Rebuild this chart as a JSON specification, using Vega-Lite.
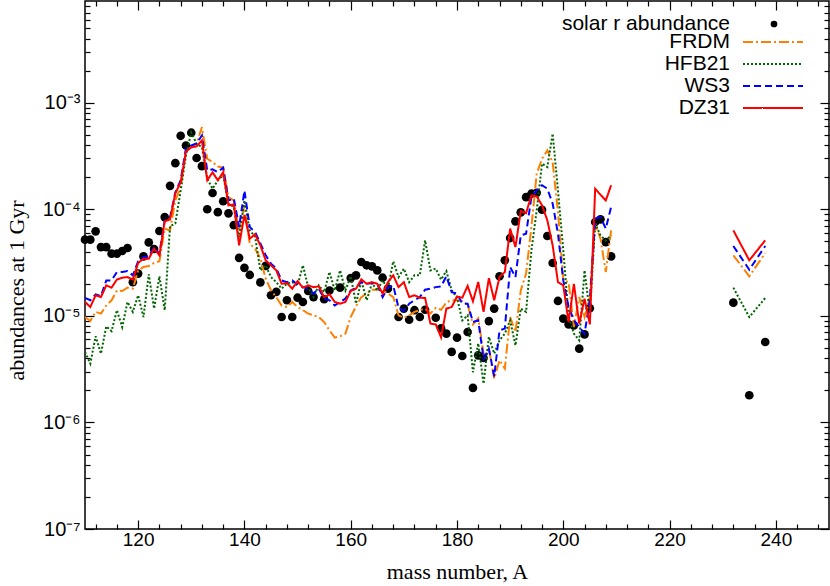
{
"$schema":"https://vega.github.io/schema/vega-lite/v6.json",
"width":744,"height":528,
"autosize":{"type":"none"},
"padding":{"left":85,"top":1,"right":1,"bottom":57},
"background":"white",
"config":{"view":{"stroke":"black","strokeWidth":1.5},"axis":{"domain":false,"grid":false,"tickColor":"black","tickWidth":1.2,"labelColor":"black","labelFont":"Liberation Sans","labelFontSize":19,"titleColor":"black","titleFont":"Liberation Serif","titleFontSize":22,"titleFontWeight":"normal","labelOverlap":false,"labelFlush":false},"legend":{"labelFont":"Liberation Sans","labelFontSize":21,"labelColor":"black","labelLimit":400,"labelAlign":"right","labelBaseline":"middle","padding":0,"rowPadding":0,"title":null}},
"data":{"values":[
{"A":110,"solar":5.19e-5,"FRDM":9.75e-6,"HFB21":4.58e-6,"WS3":1.47e-5,"DZ31":1.35e-5},
{"A":111,"solar":5.19e-5,"FRDM":8.95e-6,"HFB21":3.56e-6,"WS3":1.40e-5,"DZ31":1.21e-5},
{"A":112,"solar":6.21e-5,"FRDM":1.09e-5,"HFB21":6.43e-6,"WS3":1.59e-5,"DZ31":1.56e-5},
{"A":113,"solar":4.42e-5,"FRDM":1.05e-5,"HFB21":4.42e-6,"WS3":1.53e-5,"DZ31":1.50e-5},
{"A":114,"solar":4.42e-5,"FRDM":1.25e-5,"HFB21":7.96e-6,"WS3":2.15e-5,"DZ31":1.93e-5},
{"A":115,"solar":3.83e-5,"FRDM":1.40e-5,"HFB21":7.19e-6,"WS3":2.15e-5,"DZ31":1.84e-5},
{"A":116,"solar":3.83e-5,"FRDM":1.73e-5,"HFB21":1.13e-5,"WS3":2.58e-5,"DZ31":2.19e-5},
{"A":117,"solar":4.06e-5,"FRDM":1.71e-5,"HFB21":7.85e-6,"WS3":2.58e-5,"DZ31":2.28e-5},
{"A":118,"solar":4.33e-5,"FRDM":1.84e-5,"HFB21":1.35e-5,"WS3":2.63e-5,"DZ31":2.31e-5},
{"A":119,"solar":2.07e-5,"FRDM":1.80e-5,"HFB21":1.09e-5,"WS3":2.40e-5,"DZ31":2.19e-5},
{"A":120,"solar":2.49e-5,"FRDM":2.67e-5,"HFB21":1.56e-5,"WS3":3.25e-5,"DZ31":3.13e-5},
{"A":121,"solar":3.61e-5,"FRDM":2.87e-5,"HFB21":9.75e-6,"WS3":3.56e-5,"DZ31":3.44e-5},
{"A":122,"solar":4.89e-5,"FRDM":2.93e-5,"HFB21":2.45e-5,"WS3":3.61e-5,"DZ31":3.44e-5},
{"A":123,"solar":4.24e-5,"FRDM":3.13e-5,"HFB21":1.17e-5,"WS3":4.42e-5,"DZ31":4.27e-5},
{"A":124,"solar":6.25e-5,"FRDM":3.25e-5,"HFB21":2.35e-5,"WS3":3.83e-5,"DZ31":3.70e-5},
{"A":125,"solar":8.45e-5,"FRDM":6.58e-5,"HFB21":1.13e-5,"WS3":7.87e-5,"DZ31":7.70e-5},
{"A":126,"solar":1.66e-4,"FRDM":6.34e-5,"HFB21":6.92e-5,"WS3":8.39e-5,"DZ31":8.04e-5},
{"A":127,"solar":2.71e-4,"FRDM":1.21e-4,"HFB21":7.38e-5,"WS3":1.44e-4,"DZ31":1.41e-4},
{"A":128,"solar":4.89e-4,"FRDM":1.61e-4,"HFB21":1.50e-4,"WS3":1.87e-4,"DZ31":1.79e-4},
{"A":129,"solar":3.97e-4,"FRDM":3.57e-4,"HFB21":3.20e-4,"WS3":3.73e-4,"DZ31":3.49e-4},
{"A":130,"solar":5.23e-4,"FRDM":3.83e-4,"HFB21":5.26e-4,"WS3":3.97e-4,"DZ31":3.81e-4},
{"A":131,"solar":3.03e-4,"FRDM":4.12e-4,"HFB21":4.12e-4,"WS3":4.15e-4,"DZ31":3.89e-4},
{"A":132,"solar":2.54e-4,"FRDM":5.90e-4,"HFB21":3.83e-4,"WS3":4.93e-4,"DZ31":4.43e-4},
{"A":133,"solar":1.00e-4,"FRDM":2.98e-4,"HFB21":1.94e-4,"WS3":2.32e-4,"DZ31":1.87e-4},
{"A":134,"solar":1.42e-4,"FRDM":2.77e-4,"HFB21":1.56e-4,"WS3":2.37e-4,"DZ31":2.22e-4},
{"A":135,"solar":9.40e-5,"FRDM":2.52e-4,"HFB21":1.87e-4,"WS3":2.23e-4,"DZ31":1.87e-4},
{"A":136,"solar":1.19e-4,"FRDM":2.46e-4,"HFB21":2.08e-4,"WS3":2.46e-4,"DZ31":2.23e-4},
{"A":137,"solar":9.16e-5,"FRDM":1.30e-4,"HFB21":1.13e-4,"WS3":1.21e-4,"DZ31":1.09e-4},
{"A":138,"solar":7.10e-5,"FRDM":1.21e-4,"HFB21":1.05e-4,"WS3":1.26e-4,"DZ31":1.11e-4},
{"A":139,"solar":3.50e-5,"FRDM":6.34e-5,"HFB21":5.48e-5,"WS3":6.81e-5,"DZ31":4.58e-5},
{"A":140,"solar":2.82e-5,"FRDM":1.09e-4,"HFB21":1.21e-4,"WS3":1.50e-4,"DZ31":8.85e-5},
{"A":141,"solar":2.42e-5,"FRDM":4.75e-5,"HFB21":6.34e-5,"WS3":6.81e-5,"DZ31":5.30e-5},
{"A":142,"FRDM":4.27e-5,"HFB21":5.57e-5,"WS3":6.11e-5,"DZ31":5.82e-5},
{"A":143,"solar":2.06e-5,"FRDM":3.47e-5,"HFB21":2.67e-5,"WS3":4.79e-5,"DZ31":4.58e-5},
{"A":144,"solar":2.94e-5,"FRDM":2.24e-5,"HFB21":2.98e-5,"WS3":3.70e-5,"DZ31":3.32e-5},
{"A":145,"solar":1.56e-5,"FRDM":1.73e-5,"HFB21":2.31e-5,"WS3":3.09e-5,"DZ31":2.98e-5},
{"A":146,"solar":1.68e-5,"FRDM":1.50e-5,"HFB21":2.07e-5,"WS3":2.77e-5,"DZ31":2.67e-5},
{"A":147,"solar":9.75e-6,"FRDM":1.25e-5,"HFB21":1.80e-5,"WS3":2.15e-5,"DZ31":2.00e-5},
{"A":148,"solar":1.40e-5,"FRDM":1.21e-5,"HFB21":2.00e-5,"WS3":2.07e-5,"DZ31":2.03e-5},
{"A":149,"solar":9.75e-6,"FRDM":1.35e-5,"HFB21":2.07e-5,"WS3":2.15e-5,"DZ31":1.80e-5},
{"A":150,"solar":1.48e-5,"FRDM":1.21e-5,"HFB21":1.93e-5,"WS3":1.97e-5,"DZ31":2.12e-5},
{"A":151,"solar":1.35e-5,"FRDM":1.13e-5,"HFB21":2.98e-5,"WS3":1.86e-5,"DZ31":1.84e-5},
{"A":152,"solar":1.71e-5,"FRDM":1.05e-5,"HFB21":1.86e-5,"WS3":1.80e-5,"DZ31":1.93e-5},
{"A":153,"solar":1.50e-5,"FRDM":1.01e-5,"HFB21":1.50e-5,"WS3":1.62e-5,"DZ31":1.86e-5},
{"A":154,"FRDM":9.75e-6,"HFB21":1.93e-5,"WS3":1.80e-5,"DZ31":1.89e-5},
{"A":155,"solar":1.43e-5,"FRDM":8.75e-6,"HFB21":1.67e-5,"WS3":1.45e-5,"DZ31":1.50e-5},
{"A":156,"solar":1.73e-5,"FRDM":7.31e-6,"HFB21":2.58e-5,"WS3":1.40e-5,"DZ31":1.59e-5},
{"A":157,"FRDM":6.24e-6,"HFB21":1.73e-5,"WS3":1.25e-5,"DZ31":1.35e-5},
{"A":158,"solar":1.84e-5,"FRDM":6.43e-6,"HFB21":2.67e-5,"WS3":1.35e-5,"DZ31":1.30e-5},
{"A":159,"FRDM":6.81e-6,"HFB21":1.73e-5,"WS3":1.45e-5,"DZ31":1.35e-5},
{"A":160,"solar":2.26e-5,"FRDM":9.75e-6,"HFB21":2.35e-5,"WS3":1.73e-5,"DZ31":1.71e-5},
{"A":161,"solar":2.40e-5,"FRDM":1.23e-5,"HFB21":1.30e-5,"WS3":1.84e-5,"DZ31":1.80e-5},
{"A":162,"solar":3.20e-5,"FRDM":1.50e-5,"HFB21":2.15e-5,"WS3":2.07e-5,"DZ31":2.20e-5},
{"A":163,"solar":2.98e-5,"FRDM":1.62e-5,"HFB21":1.40e-5,"WS3":2.00e-5,"DZ31":2.00e-5},
{"A":164,"solar":2.91e-5,"FRDM":1.76e-5,"HFB21":2.03e-5,"WS3":2.03e-5,"DZ31":2.07e-5},
{"A":165,"solar":2.67e-5,"FRDM":1.76e-5,"HFB21":1.73e-5,"WS3":2.00e-5,"DZ31":2.00e-5},
{"A":166,"solar":2.28e-5,"FRDM":1.73e-5,"HFB21":2.15e-5,"WS3":1.50e-5,"DZ31":1.62e-5},
{"A":167,"solar":1.80e-5,"FRDM":1.62e-5,"HFB21":1.80e-5,"WS3":1.84e-5,"DZ31":2.07e-5},
{"A":168,"FRDM":1.50e-5,"HFB21":3.25e-5,"WS3":1.93e-5,"DZ31":2.40e-5},
{"A":169,"solar":9.75e-6,"FRDM":1.01e-5,"HFB21":2.31e-5,"WS3":1.19e-5,"DZ31":1.86e-5},
{"A":170,"solar":1.17e-5,"FRDM":9.6e-6,"HFB21":2.77e-5,"WS3":1.11e-5,"DZ31":2.07e-5},
{"A":171,"solar":9.2e-6,"FRDM":1.01e-5,"HFB21":2.07e-5,"WS3":1.30e-5,"DZ31":1.50e-5},
{"A":172,"solar":1.13e-5,"FRDM":1.09e-5,"HFB21":2.40e-5,"WS3":1.40e-5,"DZ31":1.56e-5},
{"A":173,"solar":9.75e-6,"FRDM":1.13e-5,"HFB21":2.40e-5,"WS3":1.50e-5,"DZ31":1.48e-5},
{"A":174,"solar":1.14e-5,"FRDM":1.17e-5,"HFB21":5.11e-5,"WS3":1.76e-5,"DZ31":1.47e-5},
{"A":175,"FRDM":1.05e-5,"HFB21":2.67e-5,"WS3":1.80e-5,"DZ31":8.45e-6},
{"A":176,"solar":9.6e-6,"FRDM":1.19e-5,"HFB21":2.77e-5,"WS3":1.86e-5,"DZ31":8.32e-6},
{"A":177,"solar":7.64e-6,"FRDM":1.14e-5,"HFB21":2.19e-5,"WS3":1.89e-5,"DZ31":6.28e-6},
{"A":178,"solar":6.81e-6,"FRDM":1.34e-5,"HFB21":2.63e-5,"WS3":2.35e-5,"DZ31":1.17e-5},
{"A":179,"solar":4.59e-6,"FRDM":1.40e-5,"HFB21":1.73e-5,"WS3":1.67e-5,"DZ31":1.21e-5},
{"A":180,"solar":6.24e-6,"FRDM":1.40e-5,"HFB21":1.49e-5,"WS3":1.62e-5,"DZ31":1.52e-5},
{"A":181,"solar":4.20e-6,"FRDM":1.37e-5,"HFB21":9.06e-6,"WS3":1.30e-5,"DZ31":1.48e-5},
{"A":182,"solar":7.05e-6,"FRDM":1.28e-5,"HFB21":1.01e-5,"WS3":1.30e-5,"DZ31":1.91e-5},
{"A":183,"solar":2.11e-6,"FRDM":8.32e-6,"HFB21":2.96e-6,"WS3":8.75e-6,"DZ31":1.37e-5},
{"A":184,"solar":4.26e-6,"FRDM":9.48e-6,"HFB21":5.52e-6,"WS3":9.06e-6,"DZ31":2.08e-5},
{"A":185,"solar":4.02e-6,"FRDM":4.42e-6,"HFB21":2.31e-6,"WS3":3.96e-6,"DZ31":1.09e-5},
{"A":186,"solar":8.93e-6,"FRDM":4.92e-6,"HFB21":6.34e-6,"WS3":4.92e-6,"DZ31":2.26e-5},
{"A":187,"solar":1.17e-5,"FRDM":2.58e-6,"HFB21":4.42e-6,"WS3":2.70e-6,"DZ31":1.40e-5},
{"A":188,"solar":2.35e-5,"FRDM":3.83e-6,"HFB21":5.89e-6,"WS3":7.31e-6,"DZ31":2.31e-5},
{"A":189,"solar":3.32e-5,"FRDM":3.20e-6,"HFB21":6.81e-6,"WS3":7.59e-6,"DZ31":2.58e-5},
{"A":190,"solar":5.37e-5,"FRDM":9.75e-6,"HFB21":9.06e-6,"WS3":2.87e-5,"DZ31":6.58e-5},
{"A":191,"solar":7.70e-5,"FRDM":7.05e-6,"HFB21":5.28e-6,"WS3":2.31e-5,"DZ31":4.42e-5},
{"A":192,"solar":9.35e-5,"FRDM":1.73e-5,"HFB21":1.17e-5,"WS3":5.69e-5,"DZ31":9.62e-5},
{"A":193,"solar":1.30e-4,"FRDM":2.49e-5,"HFB21":1.09e-5,"WS3":5.90e-5,"DZ31":9.21e-5},
{"A":194,"solar":1.40e-4,"FRDM":6.81e-5,"HFB21":4.12e-5,"WS3":1.30e-4,"DZ31":1.35e-4},
{"A":195,"solar":1.43e-4,"FRDM":2.16e-4,"HFB21":9.77e-5,"WS3":1.50e-4,"DZ31":1.32e-4},
{"A":196,"solar":9.9e-5,"FRDM":2.98e-4,"HFB21":2.68e-4,"WS3":1.68e-4,"DZ31":1.09e-4},
{"A":197,"solar":5.61e-5,"FRDM":3.57e-4,"HFB21":2.49e-4,"WS3":1.56e-4,"DZ31":7.87e-5},
{"A":198,"solar":3.13e-5,"FRDM":2.77e-4,"HFB21":5.12e-4,"WS3":1.13e-4,"DZ31":4.58e-5},
{"A":199,"solar":1.38e-5,"FRDM":9.42e-5,"HFB21":1.50e-4,"WS3":5.90e-5,"DZ31":2.07e-5},
{"A":200,"solar":9.42e-6,"FRDM":2.15e-5,"HFB21":4.12e-5,"WS3":2.15e-5,"DZ31":1.93e-5},
{"A":201,"solar":8.32e-6,"FRDM":2.07e-5,"HFB21":9.75e-6,"WS3":1.21e-5,"DZ31":8.75e-6},
{"A":202,"solar":8.15e-6,"FRDM":7.85e-6,"HFB21":6.81e-6,"WS3":9.06e-6,"DZ31":2.00e-5},
{"A":203,"solar":4.92e-6,"FRDM":1.50e-5,"HFB21":5.89e-6,"WS3":7.85e-6,"DZ31":8.45e-6},
{"A":204,"solar":6.70e-6,"FRDM":9.75e-6,"HFB21":2.67e-5,"WS3":6.81e-6,"DZ31":1.45e-5},
{"A":205,"solar":1.18e-5,"FRDM":1.50e-5,"HFB21":1.05e-5,"WS3":1.40e-5,"DZ31":8.32e-6},
{"A":206,"solar":7.59e-5,"FRDM":7.33e-5,"HFB21":7.33e-5,"WS3":8.17e-5,"DZ31":1.56e-4},
{"A":207,"solar":8.04e-5,"FRDM":5.30e-5,"HFB21":5.69e-5,"WS3":8.45e-5,"DZ31":1.37e-4},
{"A":208,"solar":4.92e-5,"FRDM":2.58e-5,"HFB21":5.11e-5,"WS3":6.58e-5,"DZ31":1.21e-4},
{"A":209,"solar":3.61e-5,"FRDM":6.34e-5,"HFB21":5.69e-5,"WS3":1.05e-4,"DZ31":1.68e-4},
{"A":232,"solar":1.33e-5,"FRDM":3.70e-5,"HFB21":1.84e-5,"WS3":4.52e-5,"DZ31":6.34e-5},
{"A":235,"solar":1.80e-6,"FRDM":2.35e-5,"HFB21":9.75e-6,"WS3":2.71e-5,"DZ31":3.32e-5},
{"A":238,"solar":5.68e-6,"FRDM":3.88e-5,"HFB21":1.47e-5,"WS3":4.52e-5,"DZ31":5.11e-5}
]},
"transform":[{"fold":["solar","FRDM","HFB21","WS3","DZ31"],"as":["s","v"]},{"filter":"isValid(datum.v)"}],
"resolve":{"axis":{"x":"independent","y":"independent"}},
"layer":[
{"transform":[{"filter":"datum.s === 'solar'"}],
 "mark":{"type":"point","filled":true,"shape":"circle","size":75,"opacity":1,"color":"black"},
 "encoding":{
  "x":{"field":"A","type":"quantitative","scale":{"domain":[110,250],"nice":false,"zero":false},
   "axis":{"orient":"bottom","title":"mass number, A","titlePadding":8,"values":[112,116,120,124,128,132,136,140,144,148,152,156,160,164,168,172,176,180,184,188,192,196,200,204,208,212,216,220,224,228,232,236,240,244,248],
   "labelExpr":"datum.value % 20 === 0 ? datum.label : ''","tickSize":{"condition":{"test":"datum.value % 20 === 0","value":-9},"value":-5},"labelPadding":10}},
  "y":{"field":"v","type":"quantitative","scale":{"type":"log","domain":[1e-7,9e-3],"nice":false},
   "axis":{"orient":"left","title":"abundances at 1 Gyr","titleX":-69,"titleY":289,"titleBaseline":"middle","values":[1e-7,2e-7,3e-7,4e-7,5e-7,6e-7,7e-7,8e-7,9e-7,1e-6,2e-6,3e-6,4e-6,5e-6,6e-6,7e-6,8e-6,9e-6,1e-5,2e-5,3e-5,4e-5,5e-5,6e-5,7e-5,8e-5,9e-5,1e-4,2e-4,3e-4,4e-4,5e-4,6e-4,7e-4,8e-4,9e-4,1e-3,2e-3,3e-3,4e-3,5e-3,6e-3,7e-3,8e-3],
   "labelExpr":"abs(log(datum.value)/LN10 - round(log(datum.value)/LN10)) < 0.001 ? '10⁻' + ['⁰','¹','²','³','⁴','⁵','⁶','⁷','⁸','⁹'][-round(log(datum.value)/LN10)] : ''",
   "labelFontSize":20,
   "tickSize":{"condition":{"test":"abs(log(datum.value)/LN10 - round(log(datum.value)/LN10)) < 0.001","value":-9},"value":-5},"labelPadding":14}},
  "shape":{"datum":"solar r abundance","type":"nominal","scale":{"range":["circle"]},
   "legend":{"orient":"none","legendX":678.5,"legendY":12.5,"symbolSize":45,"symbolFillColor":"black","symbolStrokeColor":"black","symbolStrokeWidth":0,"labelOffset":-54.5}}
 }},
{"transform":[{"filter":"datum.s !== 'solar' && datum.A < 220"}],
 "mark":{"type":"line","strokeWidth":2,"clip":true},
 "encoding":{
  "x":{"field":"A","type":"quantitative","axis":{"orient":"top","title":null,"labels":false,"values":[112,116,120,124,128,132,136,140,144,148,152,156,160,164,168,172,176,180,184,188,192,196,200,204,208,212,216,220,224,228,232,236,240,244,248],"tickSize":{"condition":{"test":"datum.value % 20 === 0","value":-9},"value":-5}}},
  "y":{"field":"v","type":"quantitative","axis":{"orient":"right","title":null,"labels":false,"values":[1e-7,2e-7,3e-7,4e-7,5e-7,6e-7,7e-7,8e-7,9e-7,1e-6,2e-6,3e-6,4e-6,5e-6,6e-6,7e-6,8e-6,9e-6,1e-5,2e-5,3e-5,4e-5,5e-5,6e-5,7e-5,8e-5,9e-5,1e-4,2e-4,3e-4,4e-4,5e-4,6e-4,7e-4,8e-4,9e-4,1e-3,2e-3,3e-3,4e-3,5e-3,6e-3,7e-3,8e-3],"tickSize":{"condition":{"test":"abs(log(datum.value)/LN10 - round(log(datum.value)/LN10)) < 0.001","value":-9},"value":-5}}},
  "color":{"field":"s","type":"nominal","scale":{"domain":["FRDM","HFB21","WS3","DZ31"],"range":["#ff7f00","#006400","#0000ff","#ff0000"]},
   "legend":{"orient":"none","legendX":677.5,"legendY":30.5,"symbolType":"M-3.158,0H3.158","symbolSize":361,"symbolStrokeWidth":2,"rowPadding":0,"labelOffset":-53.5}},
  "strokeDash":{"field":"s","type":"nominal","scale":{"domain":["FRDM","HFB21","WS3","DZ31"],"range":[[10,3,2,3],[2,2],[7,4],[1,0]]},
   "legend":{"orient":"none","legendX":677.5,"legendY":30.5,"symbolType":"M-3.158,0H3.158","symbolSize":361,"symbolStrokeWidth":2,"rowPadding":0,"labelOffset":-53.5}},
  "order":{"field":"A","type":"quantitative"}
 }},
{"transform":[{"filter":"datum.s !== 'solar' && datum.A > 220"}],
 "mark":{"type":"line","strokeWidth":2,"clip":true},
 "encoding":{
  "x":{"field":"A","type":"quantitative","axis":null},
  "y":{"field":"v","type":"quantitative","axis":null},
  "color":{"field":"s","type":"nominal","legend":null},
  "strokeDash":{"field":"s","type":"nominal","legend":null},
  "order":{"field":"A","type":"quantitative"}
 }}
]
}
